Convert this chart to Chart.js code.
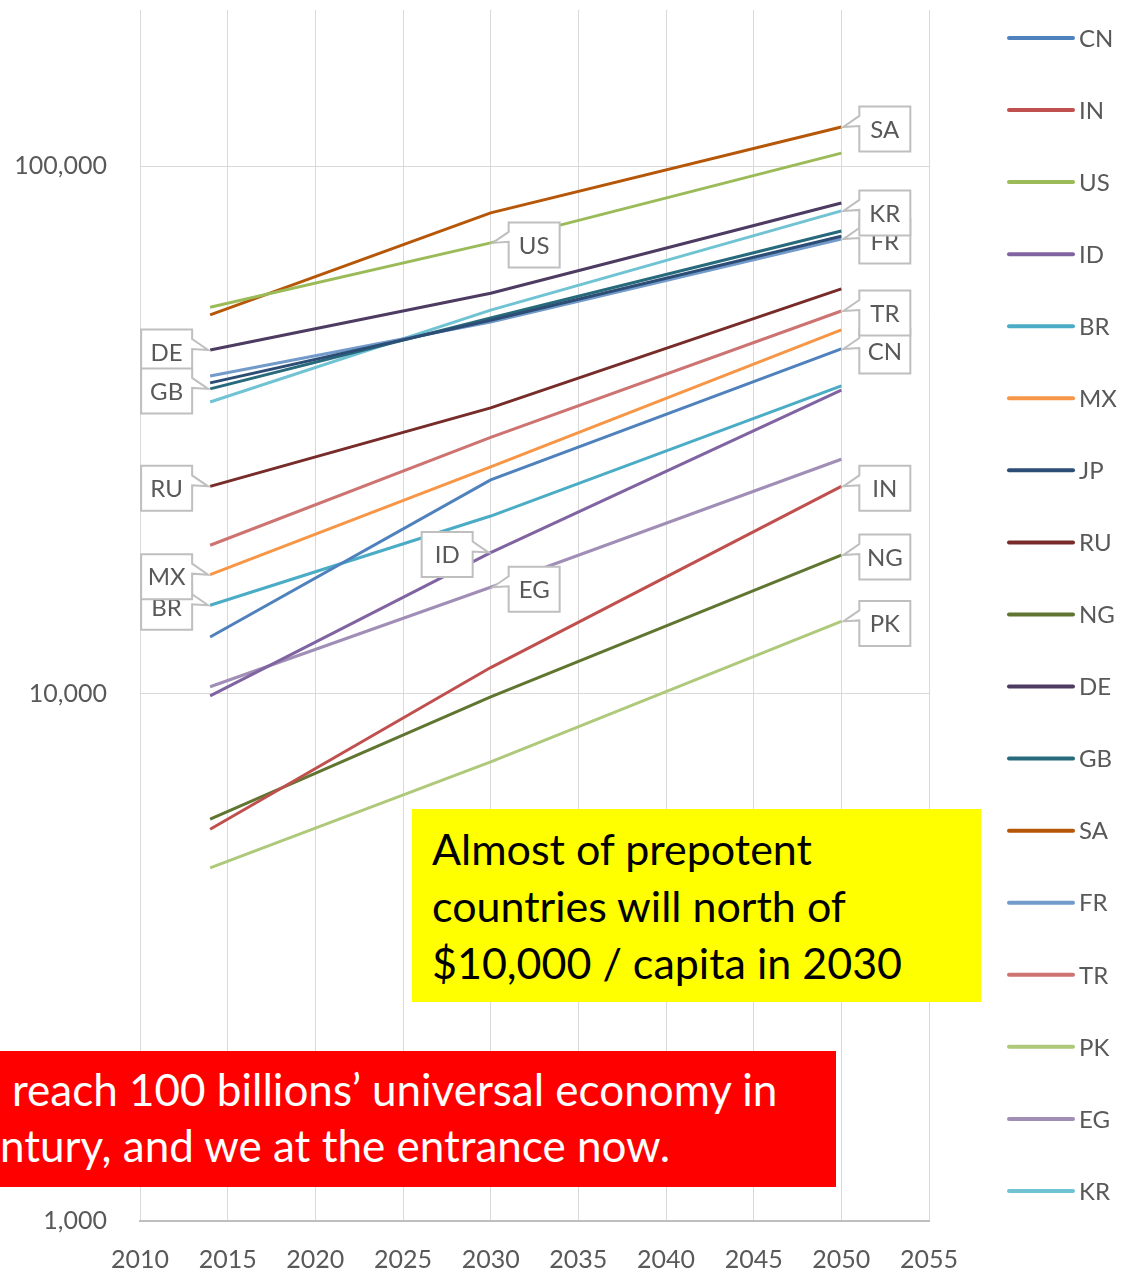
<!DOCTYPE html>
<html>
<head>
<meta charset="utf-8">
<script src="https://cdn.jsdelivr.net/npm/chart.js@4.4.0/dist/chart.umd.min.js"></script>
<style>
html, body { margin: 0; padding: 0; background: #fff; }
#wrap { position: relative; width: 1124px; height: 1275px; overflow: hidden; }
#myChart { position: absolute; left: 0; top: 0; }
.note { position: absolute; font-family: Lato, "Open Sans", sans-serif; font-size: 44px; line-height: 57px; box-sizing: border-box; white-space: nowrap; overflow: hidden; }
.yellow { left: 412px; top: 809px; width: 569px; height: 193px; background: #ffff00; color: #000; padding: 11px 0 0 20px; font-size: 43px; }
.red { left: 0; top: 1051px; width: 836px; height: 136px; background: #ff0000; color: #fff; padding: 10px 0 0 0; line-height: 56px; }
.red span { display: block; }
</style>
</head>
<body>
<div id="wrap">
  <canvas id="myChart" width="1124" height="1275"></canvas>
  <div class="note yellow">Almost of prepotent<br>countries will north of<br>$10,000 / capita in 2030</div>
  <div class="note red"><span style="margin-left:12px">reach 100 billions’ universal economy in</span><span>ntury, and we at the entrance now.</span></div>
</div>
<script>
// years with data
const years = [2014, 2030, 2050];
const countries = ['CN', 'IN', 'US', 'ID', 'BR', 'MX', 'JP', 'RU', 'NG', 'DE', 'GB', 'SA', 'FR', 'TR', 'PK', 'EG', 'KR'];

// GDP per capita
const CN = [12800, 25400, 45000];
const IN = [5530, 11200, 24700];
const US = [54000, 71500, 105800];
const ID = [9900, 18500, 37600];
const BR = [14700, 21700, 38300];
const MX = [16800, 26900, 48900];
const JP = [38800, 51000, 73600];
const RU = [24700, 34800, 58500];
const NG = [5780, 9850, 18300];
const DE = [44800, 57400, 85100];
const GB = [37800, 51500, 75300];
const SA = [52200, 81500, 118600];
const FR = [40000, 50600, 72700];
const TR = [19100, 30600, 53100];
const PK = [4670, 7420, 13700];
const EG = [10300, 15900, 27800];
const KR = [35700, 53300, 82200];
const series = [CN, IN, US, ID, BR, MX, JP, RU, NG, DE, GB, SA, FR, TR, PK, EG, KR];

const yTicks = [1000, 10000, 100000];

// which point carries the data label (-1 = none) and on which side
const labelPoint = [2, 2, 1, 1, 0, 0, -1, 0, 2, 0, 0, 2, 2, 2, 2, 1, 2];
const labelSide  = ['R','R','R','L','L','L','','L','R','L','L','R','R','R','R','R','R'];

const colors = ['#4F81BD','#C0504D','#9BBB59','#8064A2','#4BACC6','#F79646','#2C4D75','#772C2A','#5F7530',
                '#4D3B62','#276A7C','#B65708','#729ACA','#CD7371','#AFC97A','#A08EB6','#6FC3D3'];

const grey = '#595959';
const font = 'Lato, "Open Sans", sans-serif';

const calloutPlugin = {
  id: 'callouts',
  afterDatasetsDraw(chart) {
    const ctx = chart.ctx;
    chart.data.datasets.forEach((ds, i) => {
      const idx = labelPoint[i];
      if (idx < 0) return;
      const pt = chart.getDatasetMeta(i).data[idx];
      const w = 51, h = 45, gap = 18;
      const right = labelSide[i] === 'R';
      const bx = right ? pt.x + gap : pt.x - gap - w;
      const by = pt.y + 2 - h / 2;
      const cy = by + h / 2;
      ctx.save();
      ctx.beginPath();
      if (right) {
        ctx.moveTo(bx, by);
        ctx.lineTo(bx + w, by);
        ctx.lineTo(bx + w, by + h);
        ctx.lineTo(bx, by + h);
        ctx.lineTo(bx, cy - 3);
        ctx.lineTo(pt.x + 2, pt.y);
        ctx.lineTo(bx, cy - 13);
      } else {
        ctx.moveTo(bx + w, by);
        ctx.lineTo(bx, by);
        ctx.lineTo(bx, by + h);
        ctx.lineTo(bx + w, by + h);
        ctx.lineTo(bx + w, cy - 3);
        ctx.lineTo(pt.x - 2, pt.y);
        ctx.lineTo(bx + w, cy - 13);
      }
      ctx.closePath();
      ctx.fillStyle = '#fff';
      ctx.fill();
      ctx.lineWidth = 2;
      ctx.strokeStyle = '#BFBFBF';
      ctx.stroke();
      ctx.fillStyle = grey;
      ctx.font = '24px ' + font;
      ctx.textAlign = 'center';
      ctx.textBaseline = 'middle';
      ctx.fillText(countries[i], bx + w / 2, cy + 1);
      ctx.restore();
    });
  }
};

const legendPlugin = {
  id: 'sideLegend',
  afterDraw(chart) {
    const ctx = chart.ctx;
    ctx.save();
    countries.forEach((c, i) => {
      const y = 38 + i * 72.06;
      ctx.strokeStyle = colors[i];
      ctx.lineWidth = 4;
      ctx.lineCap = 'round';
      ctx.beginPath();
      ctx.moveTo(1009, y);
      ctx.lineTo(1073, y);
      ctx.stroke();
      ctx.fillStyle = grey;
      ctx.font = '24px ' + font;
      ctx.textAlign = 'left';
      ctx.textBaseline = 'middle';
      ctx.fillText(c, 1079, y + 1);
    });
    ctx.restore();
  }
};

Chart.defaults.font.family = font;
Chart.defaults.color = grey;

new Chart(document.getElementById('myChart'), {
  type: 'line',
  data: {
    datasets: countries.map((c, i) => ({
      label: c,
      data: years.map((yr, j) => ({ x: yr, y: series[i][j] })),
      borderColor: colors[i],
      backgroundColor: colors[i],
      borderWidth: 3,
      pointRadius: 0,
      tension: 0
    }))
  },
  options: {
    responsive: false,
    animation: false,
    devicePixelRatio: 1,
    layout: { padding: { top: 10, right: 195, left: 0, bottom: 0 } },
    scales: {
      x: {
        type: 'linear',
        min: 2010,
        max: 2055,
        afterFit: (s) => { s.height = 54; },
        ticks: { stepSize: 5, padding: 24, font: { size: 25 }, color: grey, callback: (v) => String(v), maxRotation: 0 },
        grid: { color: '#D9D9D9', lineWidth: 1, drawTicks: false },
        border: { color: '#BFBFBF', width: 2 }
      },
      y: {
        type: 'logarithmic',
        min: 1000,
        max: 197600,
        afterFit: (s) => { s.width = 140; s.paddingTop = 0; s.paddingBottom = 0; },
        afterBuildTicks: (s) => { s.ticks = yTicks.map((v) => ({ value: v })); },
        ticks: { padding: 33, font: { size: 25 }, color: grey, callback: (v) => v.toLocaleString('en-US') },
        grid: { color: '#D9D9D9', lineWidth: 1, drawTicks: false },
        border: { display: false }
      }
    },
    plugins: {
      legend: { display: false },
      tooltip: { enabled: false }
    }
  },
  plugins: [calloutPlugin, legendPlugin]
});
</script>
</body>
</html>
